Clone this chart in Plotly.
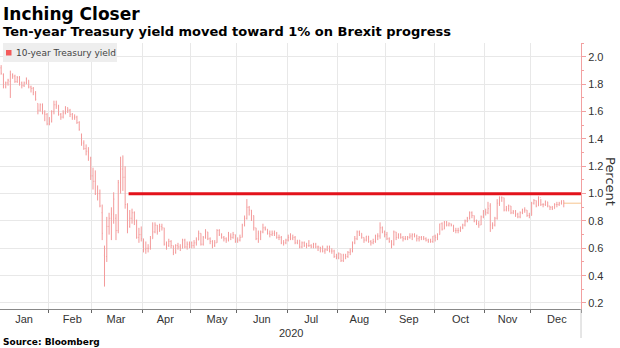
import plotly.graph_objects as go
import pandas as pd

# ---------------- data ----------------
holidays = ["2020-01-01", "2020-01-20", "2020-02-17", "2020-04-10", "2020-05-25",
            "2020-07-03", "2020-09-07", "2020-11-26", "2020-12-25"]
first_day = "2020-01-02"
last_day = "2020-12-21"
series_name = "10-year Treasury yield"

open_ = [
    1.92,1.87,1.78,1.81,1.82,1.87,1.86,1.82,1.85,1.81,1.79,1.81,1.83,1.78,1.77,1.73,1.66,1.61,1.65,1.59,1.58,
    1.51,1.53,1.60,1.65,1.64,1.58,1.56,1.59,1.63,1.61,1.58,1.56,1.56,1.52,1.43,1.37,1.33,1.31,1.26,
    1.13,1.09,1.00,1.00,0.86,0.55,0.54,0.76,0.82,0.85,0.82,0.73,1.08,1.18,1.12,0.92,0.76,0.82,0.86,0.80,0.68,0.70,
    0.67,0.59,0.60,0.61,0.67,0.72,0.77,0.73,0.76,0.75,0.63,0.62,0.65,0.62,0.57,0.62,0.61,0.60,0.66,0.61,0.63,
    0.64,0.62,0.64,0.66,0.71,0.63,0.68,0.72,0.67,0.65,0.62,0.64,0.73,0.70,0.68,0.67,0.66,0.69,0.68,0.70,
    0.65,0.66,0.68,0.77,0.82,0.90,0.88,0.84,0.75,0.67,0.71,0.72,0.75,0.74,0.71,0.70,0.71,0.71,0.68,0.68,0.64,0.64,
    0.66,0.68,0.67,0.68,0.64,0.66,0.61,0.64,0.62,0.62,0.62,0.61,0.63,0.61,0.61,0.60,0.58,0.59,0.61,0.58,0.58,0.54,
    0.53,0.56,0.51,0.55,0.54,0.57,0.58,0.64,0.67,0.72,0.71,0.68,0.66,0.69,0.65,0.64,0.65,0.69,0.69,0.75,0.72,
    0.70,0.67,0.65,0.63,0.72,0.68,0.70,0.68,0.67,0.67,0.68,0.69,0.70,0.69,0.67,0.68,0.68,0.67,0.66,0.65,0.65,
    0.69,0.68,0.70,0.78,0.74,0.79,0.77,0.78,0.77,0.73,0.73,0.73,0.75,0.77,0.80,0.82,0.86,0.84,0.80,0.78,0.77,0.83,
    0.87,0.86,0.91,0.77,0.77,0.82,0.93,0.97,0.97,0.88,0.89,0.91,0.86,0.87,0.85,0.83,0.86,0.88,0.88,0.84,
    0.84,0.93,0.95,0.91,0.97,0.92,0.92,0.94,0.91,0.90,0.89,0.92,0.92,0.93,0.95,
]
high = [
    1.94,1.88,1.82,1.84,1.90,1.88,1.87,1.86,1.86,1.82,1.82,1.85,1.83,1.79,1.78,1.75,1.66,1.66,1.66,1.61,1.59,
    1.56,1.61,1.68,1.68,1.65,1.59,1.61,1.64,1.63,1.62,1.59,1.58,1.57,1.53,1.44,1.39,1.36,1.34,1.27,
    1.19,1.17,1.06,1.03,0.92,0.62,0.83,0.86,0.90,1.01,0.85,1.10,1.27,1.28,1.20,0.93,0.88,0.89,0.87,0.81,0.75,0.76,
    0.67,0.65,0.63,0.69,0.79,0.79,0.77,0.78,0.78,0.75,0.65,0.67,0.66,0.62,0.63,0.64,0.63,0.67,0.67,0.65,0.65,
    0.65,0.66,0.68,0.73,0.71,0.69,0.74,0.72,0.68,0.66,0.66,0.74,0.74,0.71,0.69,0.68,0.72,0.71,0.72,0.70,
    0.68,0.70,0.78,0.84,0.96,0.91,0.88,0.84,0.75,0.73,0.73,0.78,0.76,0.74,0.73,0.73,0.73,0.72,0.70,0.69,0.66,0.67,
    0.70,0.71,0.70,0.69,0.66,0.66,0.65,0.65,0.64,0.66,0.63,0.64,0.64,0.62,0.61,0.62,0.60,0.62,0.62,0.60,0.59,0.56,
    0.57,0.56,0.56,0.56,0.58,0.60,0.65,0.69,0.73,0.73,0.71,0.68,0.69,0.69,0.66,0.67,0.70,0.71,0.79,0.76,0.73,
    0.72,0.68,0.66,0.73,0.72,0.71,0.71,0.69,0.69,0.69,0.71,0.71,0.71,0.70,0.69,0.69,0.69,0.68,0.67,0.67,0.69,
    0.70,0.71,0.78,0.79,0.80,0.80,0.79,0.78,0.77,0.75,0.75,0.76,0.78,0.81,0.83,0.87,0.87,0.84,0.81,0.80,0.84,0.88,
    0.89,0.94,0.93,0.79,0.83,0.96,0.98,0.98,0.97,0.91,0.92,0.91,0.88,0.88,0.86,0.87,0.89,0.90,0.88,0.86,
    0.94,0.96,0.95,0.98,0.96,0.93,0.95,0.94,0.91,0.91,0.93,0.94,0.94,0.95,0.95,
]
low = [
    1.87,1.77,1.77,1.79,1.70,1.84,1.81,1.81,1.79,1.77,1.78,1.80,1.77,1.74,1.72,1.68,1.58,1.60,1.58,1.53,1.50,
    1.50,1.52,1.58,1.62,1.57,1.54,1.55,1.58,1.59,1.56,1.54,1.54,1.51,1.46,1.35,1.32,1.28,1.24,1.10,
    1.03,0.99,0.95,0.90,0.66,0.32,0.50,0.70,0.66,0.78,0.66,0.71,1.00,1.02,0.89,0.71,0.75,0.78,0.77,0.67,0.64,0.65,
    0.57,0.56,0.57,0.59,0.67,0.71,0.70,0.72,0.73,0.62,0.59,0.61,0.60,0.55,0.56,0.59,0.58,0.60,0.60,0.59,0.60,
    0.60,0.60,0.62,0.66,0.62,0.62,0.67,0.66,0.63,0.60,0.61,0.64,0.69,0.67,0.65,0.64,0.65,0.66,0.67,0.64,
    0.64,0.65,0.68,0.76,0.81,0.84,0.80,0.73,0.66,0.64,0.66,0.71,0.73,0.70,0.68,0.69,0.69,0.67,0.66,0.63,0.62,0.63,
    0.65,0.66,0.66,0.63,0.63,0.60,0.60,0.61,0.60,0.61,0.60,0.60,0.60,0.58,0.57,0.57,0.56,0.58,0.57,0.56,0.53,0.52,
    0.52,0.50,0.50,0.52,0.53,0.55,0.57,0.63,0.66,0.69,0.67,0.64,0.65,0.64,0.62,0.63,0.64,0.66,0.67,0.71,0.68,
    0.66,0.64,0.60,0.62,0.66,0.67,0.67,0.65,0.66,0.66,0.67,0.66,0.68,0.65,0.65,0.66,0.66,0.65,0.64,0.64,0.64,
    0.65,0.66,0.70,0.73,0.74,0.76,0.76,0.76,0.72,0.71,0.71,0.72,0.74,0.76,0.79,0.81,0.82,0.79,0.77,0.75,0.77,0.82,
    0.84,0.85,0.72,0.74,0.76,0.81,0.91,0.94,0.87,0.87,0.87,0.85,0.85,0.83,0.82,0.82,0.85,0.86,0.83,0.82,
    0.84,0.92,0.90,0.91,0.91,0.90,0.91,0.90,0.88,0.88,0.89,0.90,0.91,0.92,0.90,
]
close = [
    1.88,1.79,1.81,1.83,1.87,1.86,1.82,1.85,1.81,1.79,1.81,1.84,1.78,1.77,1.74,1.69,1.61,1.65,1.59,1.58,1.51,
    1.53,1.60,1.65,1.64,1.58,1.56,1.59,1.63,1.61,1.58,1.56,1.56,1.52,1.47,1.37,1.33,1.31,1.30,1.13,
    1.09,1.00,1.00,0.91,0.71,0.54,0.76,0.82,0.85,0.96,0.73,1.08,1.18,1.12,0.92,0.76,0.82,0.86,0.80,0.68,0.70,0.67,
    0.59,0.60,0.60,0.67,0.72,0.77,0.72,0.76,0.75,0.63,0.62,0.65,0.62,0.57,0.62,0.61,0.60,0.66,0.61,0.63,0.64,
    0.62,0.64,0.66,0.71,0.63,0.68,0.72,0.67,0.65,0.62,0.64,0.73,0.70,0.68,0.67,0.66,0.69,0.68,0.70,0.65,
    0.66,0.68,0.77,0.82,0.90,0.88,0.84,0.75,0.67,0.71,0.72,0.75,0.74,0.71,0.70,0.71,0.71,0.68,0.68,0.64,0.64,0.66,
    0.68,0.67,0.68,0.64,0.66,0.61,0.64,0.62,0.62,0.62,0.61,0.63,0.61,0.61,0.60,0.58,0.59,0.61,0.58,0.58,0.54,0.53,
    0.56,0.51,0.55,0.54,0.57,0.58,0.64,0.67,0.72,0.71,0.68,0.66,0.69,0.65,0.64,0.65,0.69,0.69,0.75,0.72,0.70,
    0.67,0.65,0.63,0.72,0.68,0.70,0.68,0.67,0.67,0.68,0.69,0.70,0.69,0.67,0.68,0.68,0.67,0.66,0.65,0.65,0.69,
    0.68,0.70,0.78,0.74,0.79,0.77,0.78,0.77,0.73,0.73,0.73,0.75,0.77,0.80,0.82,0.86,0.84,0.80,0.78,0.77,0.83,0.87,
    0.86,0.89,0.77,0.77,0.82,0.93,0.97,0.97,0.88,0.89,0.91,0.86,0.87,0.85,0.83,0.86,0.88,0.88,0.84,0.84,
    0.93,0.95,0.91,0.97,0.92,0.92,0.94,0.91,0.90,0.89,0.92,0.92,0.93,0.95,0.93,
]

target_level = 1.0
target_start = "2020-03-24"
axis_start = "2020-01-01"
axis_end = "2021-01-01"

y_ticks = [0.2, 0.4, 0.6, 0.8, 1.0, 1.2, 1.4, 1.6, 1.8, 2.0]

# ---------------- layout helpers ----------------
W, H = 620, 348
ML, MR, MT, MB = 0, 39, 43, 39
PW, PH = W - ML - MR, H - MT - MB


def px(x):
    return (x - ML) / PW


def py(y):
    return (H - MB - y) / PH


dates = pd.bdate_range(first_day, last_day, freq="C", holidays=holidays)
assert len(dates) == len(close) == len(open_) == len(high) == len(low), (len(dates), len(close))
xs = dates + pd.Timedelta(hours=12)

BAR = "#f39a9a"
fig = go.Figure()
fig.add_trace(go.Ohlc(
    x=xs, open=open_, high=high, low=low, close=close,
    increasing=dict(line=dict(color=BAR, width=1)),
    decreasing=dict(line=dict(color=BAR, width=1)),
    tickwidth=0.25, showlegend=False, hoverinfo="skip", name=series_name,
))
# 1% reference line
fig.add_trace(go.Scatter(
    x=[target_start, axis_end], y=[target_level, target_level], mode="lines",
    line=dict(color="#e3121b", width=3), showlegend=False, hoverinfo="skip",
))
# last-price line
fig.add_trace(go.Scatter(
    x=[xs[-1], axis_end], y=[close[-1], close[-1]], mode="lines",
    line=dict(color="#f6c48f", width=1), showlegend=False, hoverinfo="skip",
))

GRID = "#e8e8e8"
fig.update_layout(
    width=W, height=H,
    margin=dict(l=ML, r=MR, t=MT, b=MB, pad=0),
    paper_bgcolor="white", plot_bgcolor="white",
    showlegend=False,
    font=dict(family="Liberation Sans", size=11, color="#333333"),
    xaxis=dict(
        type="date", range=[axis_start, axis_end],
        rangebreaks=[dict(bounds=["sat", "mon"]), dict(values=holidays)],
        rangeslider=dict(visible=False),
        dtick="M1", tick0="2020-01-01", ticklabelmode="period", tickformat="%b",
        ticks="outside", ticklen=3, tickcolor="#666666", ticklabelstandoff=-3,
        showline=True, linecolor="#888888", linewidth=1,
        showgrid=True, gridcolor=GRID, zeroline=False,
        tickfont=dict(family="Liberation Sans", size=11, color="#333333"),
    ),
    yaxis=dict(
        side="right", range=[0.156, 2.102],
        tickvals=y_ticks, tickformat=".1f",
        ticks="outside", ticklen=4, tickcolor="#f2a0a0",
        minor=dict(ticks="outside", ticklen=2, dtick=0.1, tick0=0, tickcolor="#f2a0a0", showgrid=False),
        showline=True, linecolor="#f2a0a0", linewidth=1,
        showgrid=True, gridcolor=GRID, zeroline=False,
        tickfont=dict(family="Liberation Sans", size=11, color="#333333"),
    ),
)

shapes = [
    # legend box
    dict(type="rect", xref="paper", yref="paper", x0=px(3), x1=px(117), y0=py(62), y1=py(43),
         fillcolor="#eeeeee", line=dict(width=0), layer="above"),
    dict(type="rect", xref="paper", yref="paper", x0=px(6), x1=px(11.5), y0=py(55.5), y1=py(50),
         fillcolor="#f45b5b", line=dict(width=0), layer="above"),
    # faint extension of right axis below the plot
    dict(type="line", xref="paper", yref="paper", x0=1, x1=1, y0=py(H - MB), y1=py(338),
         line=dict(color="#cccccc", width=1)),
]
annotations = [
    dict(text="<b>Inching Closer</b>", x=px(1), y=py(13.5), xref="paper", yref="paper",
         xanchor="left", yanchor="middle", showarrow=False,
         font=dict(family="DejaVu Sans", size=17, color="#000000")),
    dict(text="<b>Ten-year Treasury yield moved toward 1% on Brexit progress</b>", x=px(1), y=py(31.5),
         xref="paper", yref="paper", xanchor="left", yanchor="middle", showarrow=False,
         font=dict(family="DejaVu Sans", size=13, color="#000000")),
    dict(text=series_name, x=px(13.5), y=py(52.5), xref="paper", yref="paper",
         xanchor="left", yanchor="middle", showarrow=False,
         font=dict(family="DejaVu Sans", size=9, color="#444444")),
    dict(text="Percent", x=px(611), y=py(181), xref="paper", yref="paper",
         xanchor="center", yanchor="middle", textangle=90, showarrow=False,
         font=dict(family="DejaVu Sans", size=13, color="#333333")),
    dict(text="2020", x=px(291), y=py(333), xref="paper", yref="paper",
         xanchor="center", yanchor="middle", showarrow=False,
         font=dict(family="Liberation Sans", size=11, color="#333333")),
    dict(text="<b>Source: Bloomberg</b>", x=px(1), y=py(341.5), xref="paper", yref="paper",
         xanchor="left", yanchor="middle", showarrow=False,
         font=dict(family="DejaVu Sans", size=9, color="#000000")),
]
fig.update_layout(shapes=shapes, annotations=annotations)

fig.write_html("out.html")
